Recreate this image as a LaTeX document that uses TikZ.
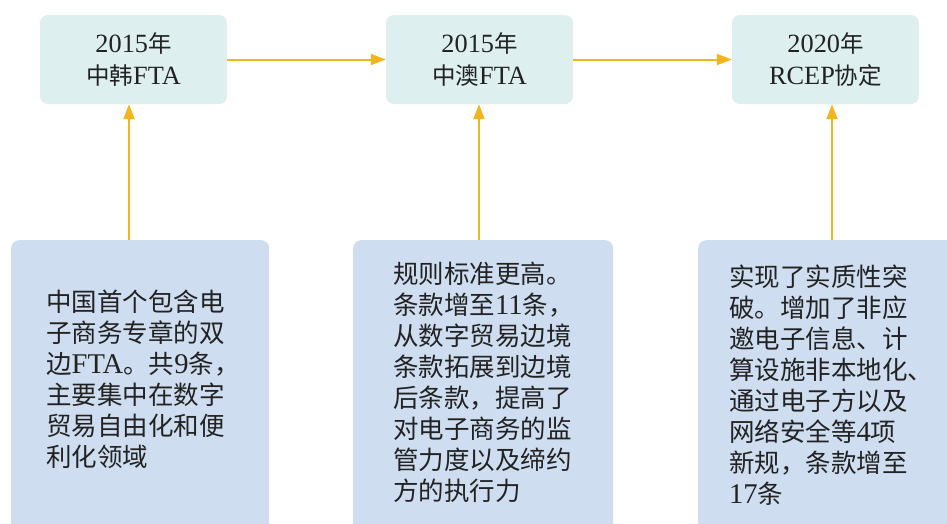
\documentclass[tikz,border=0pt]{standalone}
\usepackage{fontspec}
\setmainfont{Liberation Serif}[Scale=1.12]
\newfontfamily\cjk{Noto Sans CJK SC}
\usetikzlibrary{arrows.meta}
\definecolor{topfill}{HTML}{DDEFEE}
\definecolor{botfill}{HTML}{CFDDF0}
\definecolor{arrowc}{HTML}{F2B61C}
\definecolor{txt}{HTML}{222222}
\newcommand{\latn}[1]{{\rmfamily #1}}
\begin{document}
\begin{tikzpicture}[x=1pt,y=-1pt,
  topbox/.style={fill=topfill, rounded corners=8pt, draw=none, minimum width=187pt, minimum height=89pt,
    inner sep=0pt, align=center, text=txt, font=\cjk\fontsize{23.5}{32}\selectfont},
  botbox/.style={fill=botfill, rounded corners=8pt, draw=none, anchor=north west, inner sep=0pt},
  bottext/.style={font=\cjk\fontsize{25.5}{31}\selectfont, align=left, anchor=north west, inner sep=0pt, text=txt},
  arr/.style={draw=arrowc, line width=2pt, -{Triangle[length=15pt,width=11pt]}}]
\useasboundingbox (0,0) rectangle (947,523);
\clip (0,0) rectangle (947,523);

% top boxes
\node[topbox] (t1) at (133.5,59.5) {\latn{2015}年\\中韩\latn{FTA}};
\node[topbox] (t2) at (479.5,59.5) {\latn{2015}年\\中澳\latn{FTA}};
\node[topbox] (t3) at (825.5,59.5) {\latn{2020}年\\\latn{RCEP}协定};

% bottom boxes
\node[botbox, minimum width=258pt, minimum height=300pt] (b1) at (11,240) {};
\node[botbox, minimum width=260pt, minimum height=300pt] (b2) at (353,240) {};
\node[botbox, minimum width=270pt, minimum height=300pt] (b3) at (698,240) {};

% bottom texts
\node[bottext] (x1) at (46,290) {中国首个包含电\\子商务专章的双\\边\latn{FTA}。共\latn{9}条，\\主要集中在数字\\贸易自由化和便\\利化领域};
\node[bottext] (x2) at (393,262) {规则标准更高。\\条款增至\latn{11}条，\\从数字贸易边境\\条款拓展到边境\\后条款，提高了\\对电子商务的监\\管力度以及缔约\\方的执行力};
\node[bottext] (x3) at (729,265) {实现了实质性突\\破。增加了非应\\邀电子信息、计\\算设施非本地化、\\通过电子方以及\\网络安全等\latn{4}项\\新规，条款增至\\\latn{17}条};

% arrow x positions
\coordinate (a1) at (129,0);
\coordinate (a2) at (479,0);
\coordinate (a3) at (832,0);

% connectors
\draw[arr] (t1.east) -- (t2.west);
\draw[arr] (t2.east) -- (t3.west);
\draw[arr] (b1.north -| a1) -- (t1.south -| a1);
\draw[arr] (b2.north -| a2) -- (t2.south -| a2);
\draw[arr] (b3.north -| a3) -- (t3.south -| a3);
\end{tikzpicture}
\end{document}
